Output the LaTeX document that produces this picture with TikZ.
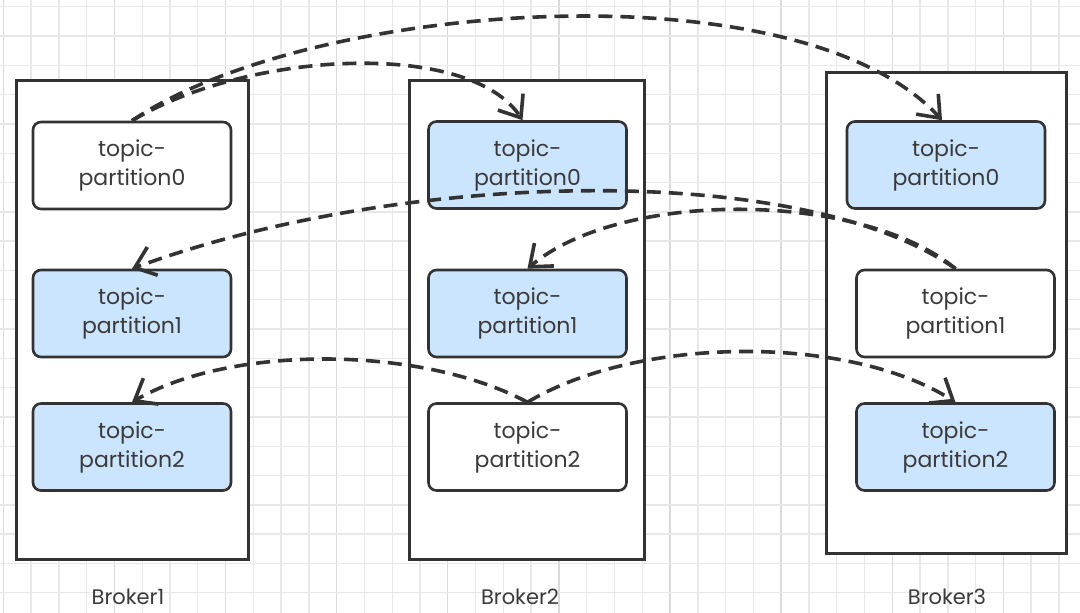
\documentclass[tikz,border=0pt]{standalone}
\usepackage{fontspec}
\setmainfont{Poppins}
\usetikzlibrary{arrows.meta}
\definecolor{lineclr}{HTML}{333333}
\definecolor{txtclr}{HTML}{3A3A3A}
\definecolor{leadclr}{HTML}{CCE5FF}
\definecolor{gridclr}{HTML}{E8E8E8}
\definecolor{majorclr}{HTML}{DADADA}

\begin{document}
\begin{tikzpicture}[x=1pt,y=-1pt,
    broker/.style={draw=lineclr,line width=3pt,fill=white,inner sep=0pt},
    part/.style={draw=lineclr,line width=2.6pt,rounded corners=8pt,fill=white,
      minimum width=198pt,minimum height=87pt,align=center,text=txtclr,
      font=\fontsize{22}{29}\selectfont},
    lead/.style={part,fill=leadclr},
    brokername/.style={text=txtclr,font=\fontsize{21}{25}\selectfont},
    repl/.style={draw=lineclr,line width=3.6pt,dash pattern=on 14pt off 8pt,
      -{Straight Barb[length=19pt,width=30pt]}}]
  \useasboundingbox (0,0) rectangle (1080,613);
  \fill[white] (0,0) rectangle (1080,613);
  \foreach \k in {0,...,38}
    \draw[gridclr,line width=1.4pt] ({3.3+\k*27.78},0) -- ({3.3+\k*27.78},613);
  \foreach \k in {0,4,...,36}
    \draw[majorclr,line width=1.4pt] ({3.3+\k*27.78},0) -- ({3.3+\k*27.78},613);
  \foreach \k in {0,...,20}
    \draw[gridclr,line width=1.4pt] (0,{6.7+\k*29.3}) -- (1080,{6.7+\k*29.3});

  \node[broker,minimum width=232pt,minimum height=479pt] (broker1) at (132,319.5) {};
  \node[broker,minimum width=235pt,minimum height=479pt] (broker2) at (526.5,319.5) {};
  \node[broker,minimum width=240pt,minimum height=481pt] (broker3) at (946,312.5) {};

  \node[part] (b1p0) at (132,165.5) {topic-\\partition0};
  \node[lead] (b1p1) at (132,313.5) {topic-\\partition1};
  \node[lead] (b1p2) at (132,447) {topic-\\partition2};
  \node[lead] (b2p0) at (527.5,165) {topic-\\partition0};
  \node[lead] (b2p1) at (527.5,313.5) {topic-\\partition1};
  \node[part] (b2p2) at (527.5,447) {topic-\\partition2};
  \node[lead] (b3p0) at (946,165) {topic-\\partition0};
  \node[part] (b3p1) at (955.5,313.5) {topic-\\partition1};
  \node[lead] (b3p2) at (955.5,447) {topic-\\partition2};

  \node[brokername] (label1) at (128,597) {Broker1};
  \node[brokername] (label2) at (520,597) {Broker2};
  \node[brokername] (label3) at (947,597) {Broker3};

  \draw[repl] (b1p0.north) .. controls (250,50) and (470,40) .. ([xshift=-5pt]b2p0.north);
  \draw[repl] (b1p0.north) .. controls (310,0) and (800,-35) .. ([xshift=-4pt]b3p0.north);
  \draw[repl] (b3p1.north) .. controls (800,160) and (400,170) .. (b1p1.north);
  \draw[repl] (b3p1.north) .. controls (860,190) and (620,190) .. (b2p1.north);
  \draw[repl] (b2p2.north) .. controls (420,345) and (230,345) .. (b1p2.north);
  \draw[repl] (b2p2.north) .. controls (640,335) and (850,335) .. (b3p2.north);
\end{tikzpicture}
\end{document}
